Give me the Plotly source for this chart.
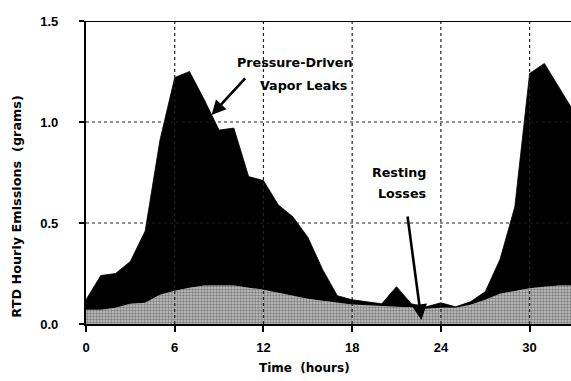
import plotly.graph_objects as go

# Hourly emissions (grams) over a day and a half
hours = [0, 1, 2, 3, 4, 5, 6, 7, 8, 9, 10, 11, 12, 13, 14, 15, 16, 17,
         18, 19, 20, 21, 22, 23, 24, 25, 26, 27, 28, 29, 30, 31, 32, 33]
# top of the stack: resting losses + pressure-driven vapor leaks
total_emissions = [0.12, 0.24, 0.25, 0.31, 0.46, 0.91, 1.22, 1.25, 1.11, 0.96,
                   0.97, 0.73, 0.71, 0.59, 0.53, 0.43, 0.27, 0.14, 0.12, 0.11,
                   0.10, 0.185, 0.10, 0.085, 0.105, 0.085, 0.11, 0.16, 0.32,
                   0.58, 1.24, 1.29, 1.17, 1.05]
resting_losses = [0.07, 0.07, 0.08, 0.10, 0.105, 0.145, 0.165, 0.18, 0.19, 0.19,
                  0.19, 0.18, 0.17, 0.155, 0.14, 0.125, 0.115, 0.105, 0.097,
                  0.093, 0.088, 0.085, 0.083, 0.075, 0.08, 0.08, 0.095, 0.12,
                  0.15, 0.165, 0.177, 0.185, 0.19, 0.19]

x_ticks = [0, 6, 12, 18, 24, 30]
y_ticks = [0.0, 0.5, 1.0, 1.5]
y_tick_text = ["0.0", "0.5", "1.0", "1.5"]

BOLD = "DejaVu Sans"

fig = go.Figure()
fig.add_trace(go.Scatter(
    x=hours, y=resting_losses, mode="lines", fill="tozeroy",
    line=dict(width=0, color="#888888"),
    fillcolor="#a0a0a0",
    fillpattern=dict(shape=".", fgcolor="#3a3a3a", bgcolor="#c4c4c4",
                     size=3, solidity=0.5),
    hoverinfo="skip", showlegend=False))
fig.add_trace(go.Scatter(
    x=hours, y=total_emissions, mode="lines", fill="tonexty",
    line=dict(width=0.8, color="black"), fillcolor="black",
    hoverinfo="skip", showlegend=False))

# dotted grid drawn on top of the shaded areas
shapes = []
for xv in x_ticks[1:]:
    shapes.append(dict(type="line", xref="x", yref="y", x0=xv, x1=xv, y0=0, y1=1.5,
                       line=dict(color="#222222", width=1.2, dash="dot"), layer="above"))
for yv in [0.5, 1.0]:
    shapes.append(dict(type="line", xref="paper", yref="y", x0=0, x1=1, y0=yv, y1=yv,
                       line=dict(color="#222222", width=1.2, dash="dot"), layer="above"))
# frame: top border
shapes.append(dict(type="line", xref="paper", yref="y", x0=0, x1=1, y0=1.5, y1=1.5,
                   line=dict(color="black", width=2.2), layer="above"))
fig.update_layout(shapes=shapes)

ann_font = dict(family=BOLD, size=12.7, color="black", weight="bold")
annotations = [
    dict(x=14.12, y=1.296, text="Pressure-Driven", showarrow=False, font=ann_font),
    dict(x=14.73, y=1.182, text="Vapor Leaks", showarrow=False, font=ann_font),
    dict(x=21.2, y=0.752, text="Resting", showarrow=False, font=ann_font),
    dict(x=21.35, y=0.648, text="Losses", showarrow=False, font=ann_font),
    dict(x=8.49, y=1.035, text="", showarrow=True, ax=35, ay=-38,
         arrowhead=2, arrowsize=1.1, arrowwidth=2.6, arrowcolor="black"),
    dict(x=22.68, y=0.02, text="", showarrow=True, ax=-14, ay=-105,
         arrowhead=2, arrowsize=1.2, arrowwidth=2.6, arrowcolor="black"),
    dict(xref="paper", yref="paper", x=-0.1433, y=0.389,
         xanchor="center", yanchor="middle",
         text="RTD Hourly Emissions \u00a0(grams)", textangle=-90, showarrow=False,
         font=dict(family=BOLD, size=12.8, color="black", weight="bold")),
    dict(xref="paper", yref="paper", x=0.4515, y=-0.145,
         xanchor="center", yanchor="middle",
         text="Time \u00a0(hours)", showarrow=False,
         font=dict(family=BOLD, size=12, color="black", weight="bold")),
]
fig.update_layout(annotations=annotations)

tick_font = dict(family="Liberation Sans", size=13, color="black", weight="bold")
fig.update_xaxes(range=[0, 32.8], tickvals=x_ticks, ticks="outside", ticklen=6,
                 tickwidth=2, tickcolor="black", showline=True, linewidth=2.2,
                 linecolor="black", showgrid=False, zeroline=False,
                 tickfont=tick_font, ticklabelstandoff=4)
fig.update_yaxes(range=[0, 1.5], tickvals=y_ticks, ticktext=y_tick_text,
                 ticks="outside", ticklen=5, tickwidth=2, tickcolor="black",
                 showline=True, linewidth=2.2, linecolor="black", showgrid=False,
                 zeroline=False, tickfont=tick_font, ticklabelstandoff=18)

fig.update_layout(width=571, height=381,
                  margin=dict(l=86, r=0, t=21, b=57),
                  plot_bgcolor="white", paper_bgcolor="white")

fig.write_html("out.html")
